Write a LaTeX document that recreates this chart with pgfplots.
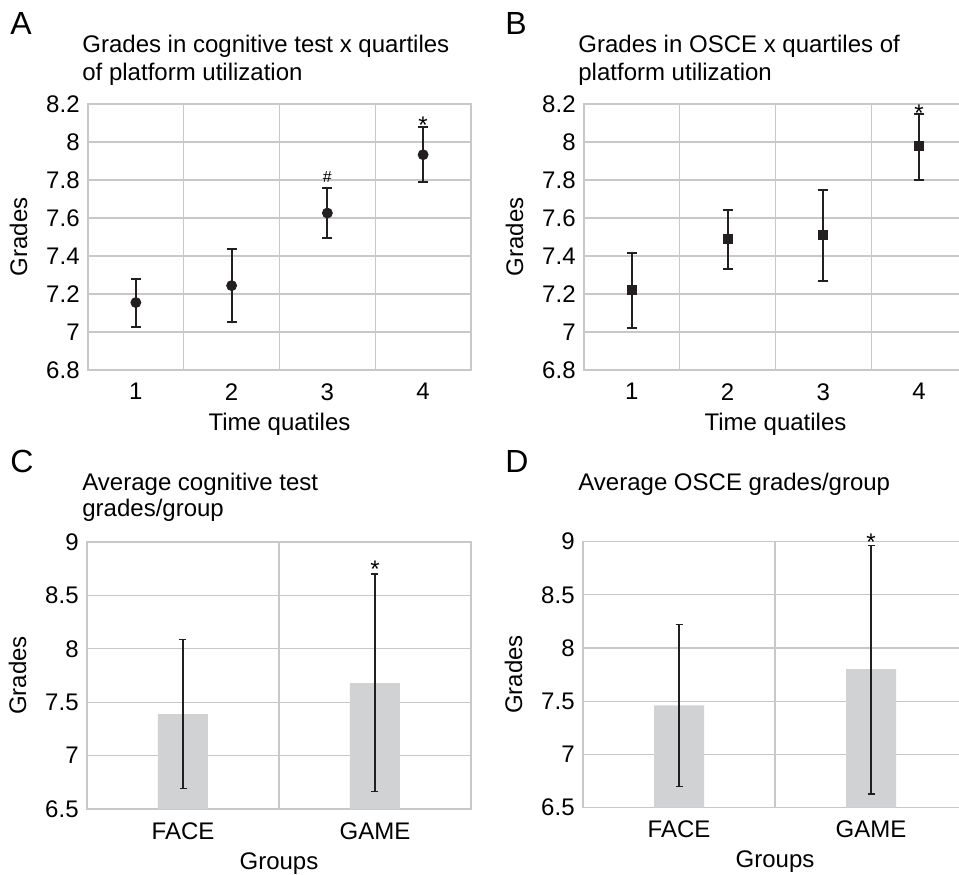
\documentclass[border=0pt]{standalone}
\usepackage{pgfplots}
\pgfplotsset{compat=1.18}
\usepackage{fontspec}
\setmainfont{Liberation Sans}
\definecolor{dark}{RGB}{35,31,32}
\definecolor{gridc}{RGB}{200,200,202}
\definecolor{barc}{RGB}{209,210,212}
\newcommand{\txt}{\fontsize{12}{14}\selectfont}
\newcommand{\bigletter}{\fontsize{16}{19}\selectfont}
\pgfplotsset{
  panel/.style={
    scale only axis, width=191.5pt, height=133pt, anchor=south west,
    clip mode=individual,
    font=\txt, tick label style={font=\txt},
    /pgf/number format/assume math mode=true,
    axis line style={gridc, line width=0.6pt},
    major tick length=0pt, minor tick length=0pt,
    ymajorgrids, xmajorgrids=false, xminorgrids,
    grid style={gridc, line width=0.6pt},
    minor grid style={gridc, line width=0.6pt},
    yticklabel style={anchor=east, inner sep=0pt, xshift=-4pt},
    xticklabel style={anchor=north, inner sep=0pt, yshift=-6.5pt},
    xlabel style={at={(axis description cs:0.5,0)}, anchor=north, inner sep=0pt, yshift=-21.5pt},
    ylabel style={at={(axis description cs:-0.157,0.5)}, anchor=south, inner sep=0pt},
    ylabel={Grades},
  },
  quart/.style={panel, xmin=0, xmax=4, xtick={0.5,1.5,2.5,3.5}, xticklabels={1,2,3,4},
    minor xtick={1,2,3}, ymin=6.8, ymax=8.2, ytick={6.8,7,7.2,7.4,7.6,7.8,8,8.2},
    xlabel={Time quatiles}},
  grp/.style={panel, xmin=0, xmax=2, xtick={0.5,1.5}, xticklabels={FACE,GAME},
    minor xtick={1}, ymin=6.5, ymax=9, ytick={6.5,7,7.5,8,8.5,9},
    xlabel={Groups}},
  eb/.style={error bars/.cd, y dir=both, y explicit,
    error bar style={line width=1pt, dark},
    error mark options={rotate=90, line width=1pt, dark, mark size=2.5pt}},
  ebthin/.style={error bars/.cd, y dir=both, y explicit,
    error bar style={line width=0.6pt, dark},
    error mark options={rotate=90, line width=0.6pt, dark, mark size=1.75pt}},
}
\begin{document}
\begin{tikzpicture}[font=\txt]
\path[use as bounding box] (0,0) rectangle (479.5pt,437pt);

% Panel A
\begin{axis}[quart, at={(44pt,252pt)}]
\addplot[only marks, mark=*, mark size=2.5pt, dark, eb] coordinates {
 (0.5,7.155) += (0,0.126) -= (0,0.127)
 (1.5,7.244) += (0,0.195) -= (0,0.189)
 (2.5,7.626) += (0,0.133) -= (0,0.129)
 (3.5,7.933) += (0,0.144) -= (0,0.146)
};
\node[font=\fontsize{8}{9}\selectfont, anchor=south, inner sep=0pt, yshift=2.5pt] at (axis cs:2.5,7.759) {\#};
\node[anchor=base, inner sep=0pt, yshift=-3pt] at (axis cs:3.5,8.077) {*};
\end{axis}

% Panel B
\begin{axis}[quart, at={(292pt,252pt)}]
\addplot[only marks, mark=square*, mark size=2.25pt, dark, eb] coordinates {
 (0.5,7.220) += (0,0.197) -= (0,0.197)
 (1.5,7.489) += (0,0.154) -= (0,0.160)
 (2.5,7.510) += (0,0.239) -= (0,0.241)
 (3.5,7.979) += (0,0.170) -= (0,0.178)
};
\node[anchor=base, inner sep=0pt, yshift=-4pt] at (axis cs:3.5,8.149) {*};
\end{axis}

% Panel C
\begin{axis}[grp, at={(43.5pt,32.5pt)}, height=133.5pt, width=192pt]
\addplot[ybar, bar width=25pt, fill=barc, draw=none, ebthin] coordinates {
 (0.5,7.388) += (0,0.701) -= (0,0.698)
 (1.5,7.678) += (0,1.023) -= (0,1.016)
};
\node[anchor=base, inner sep=0pt, yshift=-2pt] at (axis cs:1.5,8.701) {*};
\end{axis}

% Panel D
\begin{axis}[grp, at={(291.5pt,33.2pt)}, width=192pt]
\addplot[ybar, bar width=25pt, fill=barc, draw=none, ebthin] coordinates {
 (0.5,7.461) += (0,0.759) -= (0,0.764)
 (1.5,7.802) += (0,1.164) -= (0,1.174)
};
\node[anchor=base, inner sep=0pt, yshift=-2.5pt] at (axis cs:1.5,8.966) {*};
\end{axis}

% Panel letters and titles
\node[anchor=base west, inner sep=0pt, font=\bigletter] at (5pt,419.5pt) {A};
\node[anchor=base west, inner sep=0pt, font=\bigletter] at (252.5pt,419.5pt) {B};
\node[anchor=base west, inner sep=0pt, font=\bigletter] at (5pt,200.5pt) {C};
\node[anchor=base west, inner sep=0pt, font=\bigletter] at (252.5pt,200.5pt) {D};

\node[anchor=base west, inner sep=0pt] at (41pt,410.5pt) {Grades in cognitive test x quartiles};
\node[anchor=base west, inner sep=0pt] at (41pt,396.5pt) {of platform utilization};
\node[anchor=base west, inner sep=0pt] at (289pt,410.5pt) {Grades in OSCE x quartiles of};
\node[anchor=base west, inner sep=0pt] at (289pt,396.5pt) {platform utilization};
\node[anchor=base west, inner sep=0pt] at (41pt,191.5pt) {Average cognitive test};
\node[anchor=base west, inner sep=0pt] at (41pt,178.5pt) {grades/group};
\node[anchor=base west, inner sep=0pt] at (289pt,191.5pt) {Average OSCE grades/group};
\end{tikzpicture}
\end{document}
